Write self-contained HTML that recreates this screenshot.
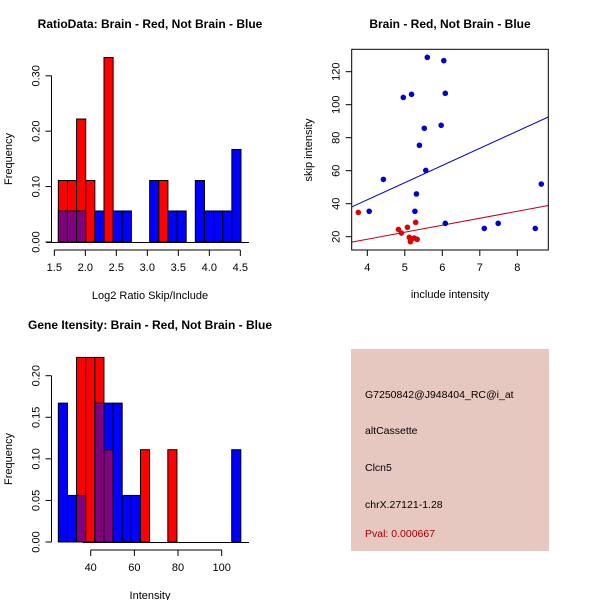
<!DOCTYPE html>
<html><head><meta charset="utf-8"><style>
body{margin:0;background:#fff}
svg{display:block;font-family:"Liberation Sans",sans-serif}
</style></head><body>
<svg id="s" width="600" height="600">
<rect width="600" height="600" fill="#fff"/>
<text x="150" y="28" font-size="12" font-weight="bold" text-anchor="middle">RatioData: Brain - Red, Not Brain - Blue</text>
<text x="450" y="28" font-size="12" font-weight="bold" text-anchor="middle">Brain - Red, Not Brain - Blue</text>
<text x="150" y="329" font-size="12" font-weight="bold" text-anchor="middle">Gene Itensity: Brain - Red, Not Brain - Blue</text>
<g id="g1"></g>
<g id="g2"></g>
<g id="g3"></g>
<g>
<rect x="351" y="349" width="198" height="202" fill="#e6c8c0"/>
<text x="365" y="398" font-size="10.5">G7250842@J948404_RC@i_at</text>
<text x="365" y="434" font-size="10.5">altCassette</text>
<text x="365" y="471" font-size="10.5">Clcn5</text>
<text x="365" y="508" font-size="10.5">chrX.27121-1.28</text>
<text x="365" y="537" font-size="10.5" fill="#a00000">Pval: 0.000667</text>
</g>
</svg>
<script>
// Ratio histogram data
const ratioStart = 1.5645, ratioWidth = 0.1473;
const ratioRed  = [0.111,0.111,0.222,0.111,0,0.333,0,0,0,0,0,0.111,0,0,0,0,0,0,0,0];
const ratioBlue = [0.056,0.056,0.056,0,0.056,0,0.056,0.056,0,0,0.111,0,0.056,0.056,0,0.111,0.056,0.056,0.056,0.167];
const ratioXTicks = ["1.5","2.0","2.5","3.0","3.5","4.0","4.5"];
const ratioYTicks = ["0.00","0.10","0.20","0.30"];
// Intensity histogram data
const intStart = 25.17, intWidth = 4.18;
const intRed  = [0,0,0.222,0.222,0.222,0.111,0,0,0,0.111,0,0,0.111,0,0,0,0,0,0,0];
const intBlue = [0.167,0.056,0.056,0,0.167,0.167,0.167,0.056,0.056,0,0,0,0,0,0,0,0,0,0,0.111];
const intXTicks = ["40","60","80","100"];
const intYTicks = ["0.00","0.05","0.10","0.15","0.20"];
// Scatter data
const blueX = [5.6,6.04,4.96,5.18,6.08,5.52,5.97,5.39,5.56,4.43,5.31,5.27,4.05,6.08,7.12,7.49,8.48,8.64];
const blueY = [128.7,126.7,104.4,106.3,106.9,85.7,87.5,75.4,60.2,54.7,45.9,35.4,35.4,28.1,25,28.1,25,51.9];
const redX = [3.76,4.83,4.91,5.07,5.29,5.12,5.2,5.15,5.33,5.25];
const redY = [34.7,24.4,22.2,25.7,28.7,19.6,18.8,17,18.4,19.2];
const blueFit = [0.76,10.4];
const redFit = [1.57,4.23];
const scXTicks = ["4","5","6","7","8"];
const scYTicks = ["20","40","60","80","100","120"];

const NS="http://www.w3.org/2000/svg";
function mk(p,tag,at){const e=document.createElementNS(NS,tag);for(const k in at)e.setAttribute(k,at[k]);p.appendChild(e);return e;}
function txt(p,x,y,s,rot,anchor){const t=mk(p,'text',{x:x,y:y,'font-size':11,'text-anchor':anchor||'middle'});if(rot)t.setAttribute('transform','rotate(-90 '+x+' '+y+')');t.textContent=s;return t;}

function hist(g,start,width,red,blue,xs,xt,ys,yt,x0,y0,xLab,xAxEnd){
  const X=v=>x0+(v-xs[0])*xs[1], Y=v=>y0-v*ys;
  for(let i=0;i<red.length;i++){
    const a=start+i*width,b=a+width,r=red[i],bl=blue[i];
    const draw=(h,c,n)=>{const e=mk(g,'rect',{x:X(a),y:Y(h),width:X(b)-X(a),height:Y(0)-Y(h),fill:c,stroke:'#000','stroke-width':1});
      
      };
    if(r>0&&bl>0){ if(r>bl){draw(r,'#ff0000','bar-brain-'+i);draw(bl,'#800080','bar-overlap-'+i);} else {draw(bl,'#0000ff','bar-notbrain-'+i);draw(r,'#800080','bar-overlap-'+i);} }
    else if(r>0) draw(r,'#ff0000','bar-brain-'+i);
    else if(bl>0) draw(bl,'#0000ff','bar-notbrain-'+i);
  }
  mk(g,'line',{x1:x0-8,y1:Y(0)+0.5,x2:249,y2:Y(0)+0.5,stroke:'#000'});
  // x axis
  const xa=mk(g,'g',{});
  const ax=Y(0)+8;
  mk(xa,'line',{x1:X(+xt[0]),y1:ax,x2:X(+xt[xt.length-1]),y2:ax,stroke:'#000'});
  xt.forEach(t=>{mk(xa,'line',{x1:X(+t),y1:ax,x2:X(+t),y2:ax+6,stroke:'#000'});txt(xa,X(+t),ax+21,t);});
  txt(g,150,Y(0)+57,xLab);
  const ya=mk(g,'g',{});
  const yx=51.5;
  mk(ya,'line',{x1:yx,y1:Y(+yt[0]),x2:yx,y2:Y(+yt[yt.length-1]),stroke:'#000'});
  yt.forEach(t=>{mk(ya,'line',{x1:yx,y1:Y(+t),x2:yx-6,y2:Y(+t),stroke:'#000'});txt(ya,yx-12,Y(+t),t,true);});
  txt(g,12,Y(0)-(Y(0)-(y0-166))/2- -(0),'Frequency',true);
}
hist(document.getElementById('g1'),ratioStart,ratioWidth,ratioRed,ratioBlue,[1.5,62],ratioXTicks,554,ratioYTicks,54.33,242,'Log2 Ratio Skip/Include');
hist(document.getElementById('g3'),intStart,intWidth,intRed,intBlue,[40,2.183],intXTicks,831.5,intYTicks,90.7,542,'Intensity');

// scatter
(function(){
  const g=document.getElementById('g2');
  const X=v=>367.3+(v-4)*37.5, Y=v=>236.7-(v-20)*1.65;
  const L=351.7,R=548.3,T=49.3,B=250;
  mk(g,'defs',{}).innerHTML='<clipPath id="cp"><rect x="'+L+'" y="'+T+'" width="'+(R-L)+'" height="'+(B-T)+'"/></clipPath>';
  const fit=(f,c,n)=>{const e=mk(g,'line',{x1:L,y1:Y(f[0]+f[1]*((L-367.3)/37.5+4)),x2:R,y2:Y(f[0]+f[1]*((R-367.3)/37.5+4)),stroke:c,'clip-path':'url(#cp)'});
    
    };
  fit(blueFit,'#0000c0','fit-line-notbrain');fit(redFit,'#c00020','fit-line-brain');
  blueX.forEach((x,i)=>{const e=mk(g,'circle',{cx:X(x),cy:Y(blueY[i]),r:2.8,fill:'#0000d0'});
    
    });
  redX.forEach((x,i)=>{const e=mk(g,'circle',{cx:X(x),cy:Y(redY[i]),r:2.8,fill:'#e00000'});
    
    });
  mk(g,'rect',{x:L,y:T,width:R-L,height:B-T,fill:'none',stroke:'#000'});
  scXTicks.forEach(t=>{mk(g,'line',{x1:X(+t),y1:B,x2:X(+t),y2:B+6,stroke:'#000'});txt(g,X(+t),B+21,t);});
  scYTicks.forEach(t=>{mk(g,'line',{x1:L,y1:Y(+t),x2:L-6,y2:Y(+t),stroke:'#000'});txt(g,L-12,Y(+t),t,true);});
  txt(g,450,298,'include intensity');
  txt(g,312,150,'skip intensity',true);
})();
</script>
</body></html>
